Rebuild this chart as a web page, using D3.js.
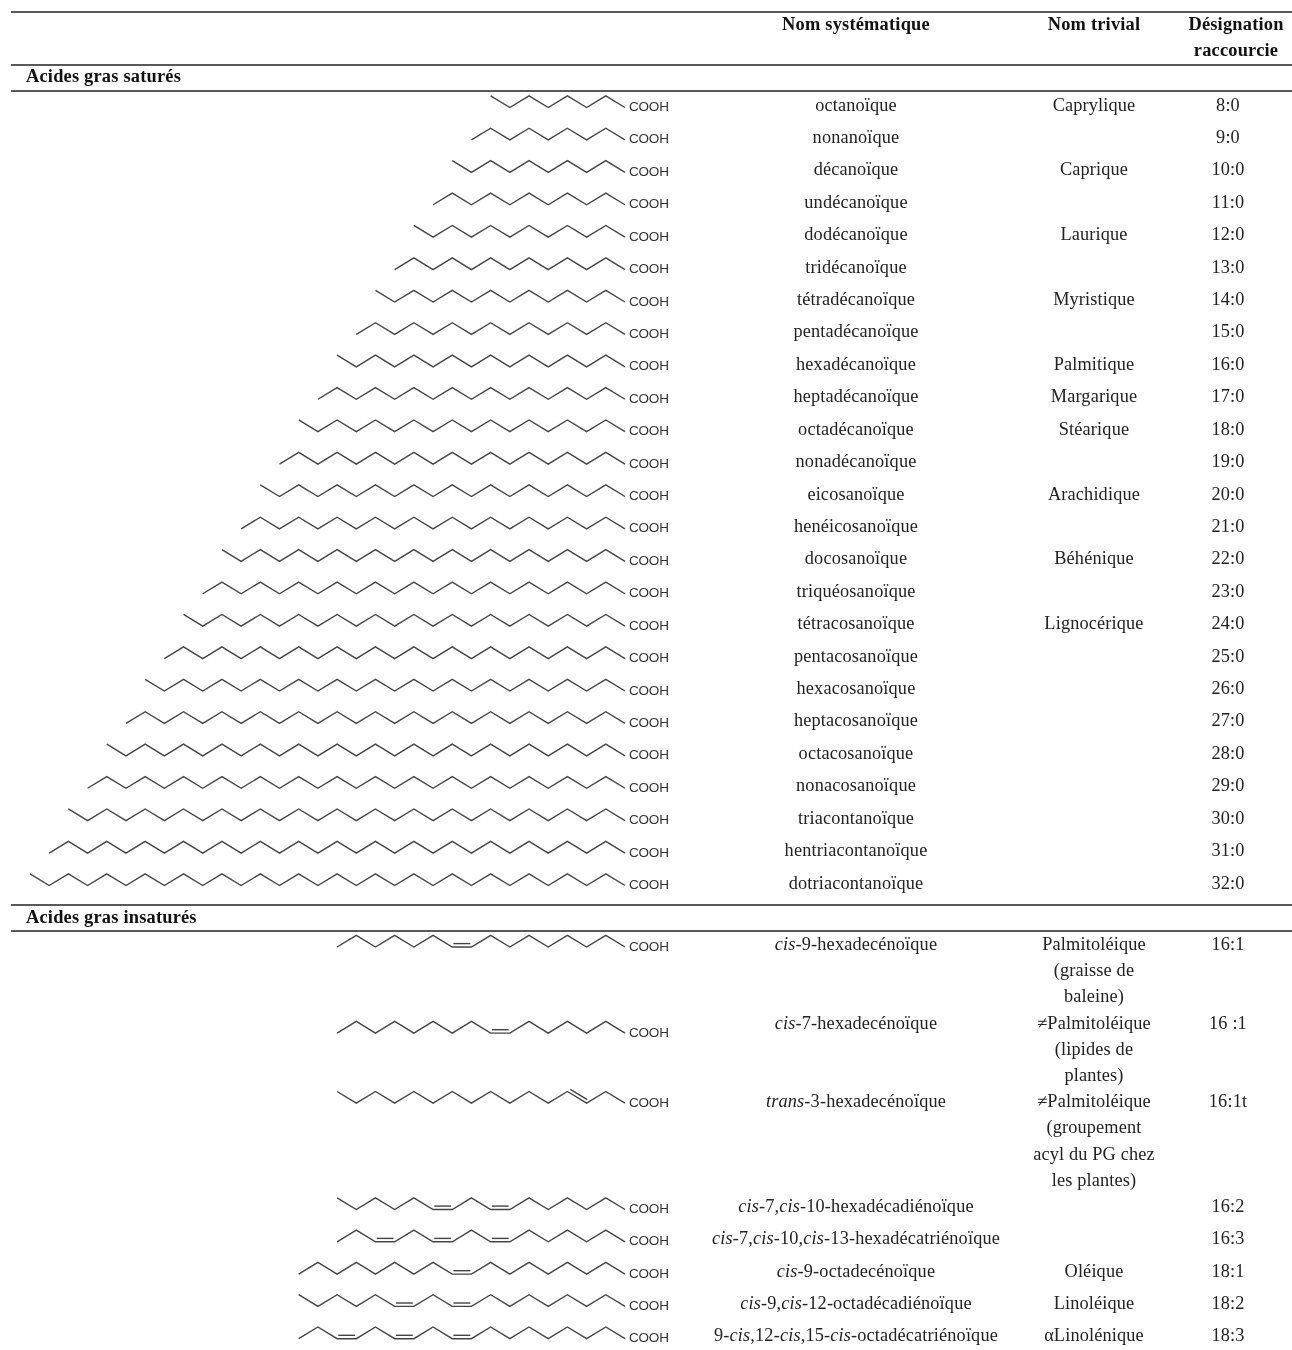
<!DOCTYPE html>
<html>
<head>
<meta charset="utf-8">
<script src="https://cdn.jsdelivr.net/npm/d3@7"></script>
<style>
  html, body { margin: 0; padding: 0; background: #fff; }
  svg { display: block; filter: blur(0.35px); }
  text { font-family: "Liberation Serif", serif; font-size: 18.3px; letter-spacing: 0.15px; fill: #222; }
  .head { font-weight: bold; font-size: 18.4px; letter-spacing: 0.2px; fill: #111; }
  .cooh { font-family: "Liberation Sans", sans-serif; font-size: 13.5px; letter-spacing: -0.2px; fill: #333; }
  .chain { fill: none; stroke: #444; stroke-width: 1.4; }
  .bond { stroke: #444; stroke-width: 1.4; }
  .rule { stroke: #222; stroke-width: 1.6; }
</style>
</head>
<body>
<div id="chart"></div>
<script>
// saturated fatty acids
var satCarbons = d3.range(8, 33);
var satNames = ["octanoïque","nonanoïque","décanoïque","undécanoïque","dodécanoïque","tridécanoïque",
  "tétradécanoïque","pentadécanoïque","hexadécanoïque","heptadécanoïque","octadécanoïque","nonadécanoïque",
  "eicosanoïque","henéicosanoïque","docosanoïque","triquéosanoïque","tétracosanoïque","pentacosanoïque",
  "hexacosanoïque","heptacosanoïque","octacosanoïque","nonacosanoïque","triacontanoïque","hentriacontanoïque",
  "dotriacontanoïque"];
var satTrivial = ["Caprylique","","Caprique","","Laurique","","Myristique","","Palmitique","Margarique","Stéarique","",
  "Arachidique","","Béhénique","","Lignocérique","","","","","","","",""];
var satShort = ["8:0","9:0","10:0","11:0","12:0","13:0","14:0","15:0","16:0","17:0","18:0","19:0","20:0","21:0",
  "22:0","23:0","24:0","25:0","26:0","27:0","28:0","29:0","30:0","31:0","32:0"];

// unsaturated fatty acids, * marks italics in the names
var unsatCarbons = [16, 16, 16, 16, 16, 18, 18, 18];
var unsatDouble = [[8], [6], [2], [6, 9], [6, 9, 12], [8], [8, 11], [8, 11, 14]];
var unsatTrans = [false, false, true, false, false, false, false, false];
var unsatNames = ["*cis*-9-hexadecénoïque","*cis*-7-hexadecénoïque","*trans*-3-hexadecénoïque",
  "*cis*-7,*cis*-10-hexadécadiénoïque","*cis*-7,*cis*-10,*cis*-13-hexadécatriénoïque","*cis*-9-octadecénoïque",
  "*cis*-9,*cis*-12-octadécadiénoïque","9-*cis*,12-*cis*,15-*cis*-octadécatriénoïque"];
var unsatTrivial = [["Palmitoléique","(graisse de","baleine)"],["≠Palmitoléique","(lipides de","plantes)"],
  ["≠Palmitoléique","(groupement","acyl du PG chez","les plantes)"],[""],[""],["Oléique"],["Linoléique"],["αLinolénique"]];
var unsatShort = ["16:1","16 :1","16:1t","16:2","16:3","18:1","18:2","18:3"];

var headers = ["Nom systématique","Nom trivial"];
var shortHeader = ["Désignation","raccourcie"];
var sections = ["Acides gras saturés","Acides gras insaturés"];

var width = 1292, height = 1350;
var nameX = 856, trivialX = 1094, shortX = 1235;

var svg = d3.select("#chart").append("svg").attr("width", width).attr("height", height);

// carbon index from the acid end -> x, zigzag level -> y
var xScale = d3.scaleLinear().domain([0, 31]).range([625, 30]);
var levelScale = d3.scaleLinear().domain([0, 1]).range([0, -11.7]);
var satRow = d3.scaleLinear().domain([0, 24]).range([110.5, 888.5]);

var chainLine = d3.line().x(function(d) { return xScale(d.i); }).y(function(d) { return d.y; });

function chainPoints(n, doubles, isTrans, lowY) {
  var pts = [], level = 0;
  for (var i = 0; i < n; i++) {
    pts.push({ i: i, y: lowY + levelScale(level) });
    // a cis bond keeps both carbons on the same level
    var stay = !isTrans && doubles.indexOf(i) >= 0;
    if (!stay) level = 1 - level;
  }
  return pts;
}

function drawStructure(n, doubles, isTrans, baseY) {
  var lowY = baseY - 3.5;
  var pts = chainPoints(n, doubles, isTrans, lowY);
  var g = svg.append("g");
  g.append("path").attr("class", "chain").attr("d", chainLine(pts));
  doubles.forEach(function(k) {
    var a = pts[k], b = pts[k + 1];
    var x1 = xScale(a.i), x2 = xScale(b.i), y1 = a.y, y2 = b.y;
    var dx = x2 - x1, dy = y2 - y1, len = Math.sqrt(dx * dx + dy * dy);
    var nx = dy / len, ny = -dx / len;
    if (ny > 0) { nx = -nx; ny = -ny; }
    g.append("line").attr("class", "bond")
      .attr("x1", x1 + dx * 0.06 + nx * 3.4).attr("y1", y1 + dy * 0.06 + ny * 3.4)
      .attr("x2", x2 - dx * 0.06 + nx * 3.4).attr("y2", y2 - dy * 0.06 + ny * 3.4);
  });
  g.append("text").attr("class", "cooh").attr("x", 629).attr("y", baseY).text("COOH");
}

function centered(x, y, label) {
  return svg.append("text").attr("x", x).attr("y", y).attr("text-anchor", "middle").text(label);
}

function styledName(x, y, label) {
  var t = svg.append("text").attr("x", x).attr("y", y).attr("text-anchor", "middle");
  label.split("*").forEach(function(part, i) {
    t.append("tspan").attr("font-style", i % 2 ? "italic" : "normal").text(part);
  });
}

// rules
[12, 65, 91, 905, 931].forEach(function(y) {
  svg.append("line").attr("class", "rule").attr("x1", 11).attr("x2", width).attr("y1", y).attr("y2", y);
});

// headers
centered(nameX, 30, headers[0]).attr("class", "head");
centered(trivialX, 30, headers[1]).attr("class", "head");
shortHeader.forEach(function(h, i) { centered(shortX + 1, 30 + i * 25.5, h).attr("class", "head"); });
svg.append("text").attr("class", "head").attr("x", 26).attr("y", 82).text(sections[0]);
svg.append("text").attr("class", "head").attr("x", 26).attr("y", 923).text(sections[1]);

// saturated rows
satCarbons.forEach(function(n, i) {
  var y = satRow(i);
  drawStructure(n, [], false, y + 0.5);
  centered(nameX, y, satNames[i]);
  if (satTrivial[i]) centered(trivialX, y, satTrivial[i]);
  centered(shortX - 7, y, satShort[i]);
});

// unsaturated rows, height follows the number of trivial-name lines
var structShift = [0.5, 8, -0.5];
var rowY = 950;
unsatCarbons.forEach(function(n, i) {
  var lines = unsatTrivial[i];
  var shift = i < structShift.length ? structShift[i] : 1;
  drawStructure(n, unsatDouble[i], unsatTrans[i], rowY + shift);
  styledName(nameX, rowY, unsatNames[i]);
  lines.forEach(function(l, j) { if (l) centered(trivialX, rowY + j * 26.2, l); });
  centered(shortX - 7, rowY, unsatShort[i]);
  rowY += lines.length > 1 ? lines.length * 26.2 : 32.3;
});
</script>
</body>
</html>
